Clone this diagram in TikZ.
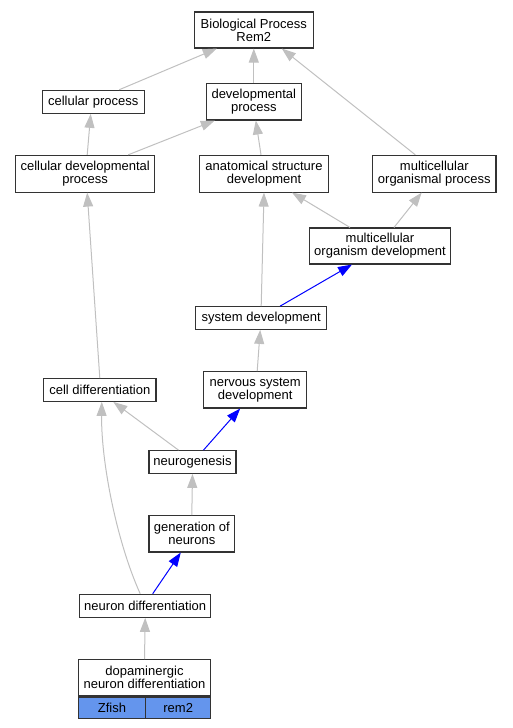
\documentclass[tikz,border=0pt]{standalone}
\usepackage{fontspec}
\setmainfont{Liberation Sans}
\usetikzlibrary{arrows.meta}
\definecolor{edgegray}{HTML}{C0C0C0}
\definecolor{cellblue}{HTML}{6495ED}
\begin{document}
\begin{tikzpicture}[x=1pt, y=-1pt,
        term/.style={draw=black!80, line width=1.1pt, fill=white, rectangle, inner sep=0pt,
            align=center, font=\fontsize{13}{13}\selectfont},
        cell/.style={term, fill=cellblue},
        isa/.style={edgegray, line width=1pt, -{Triangle[length=14pt,width=10pt]}},
        partof/.style={blue, line width=1pt, -{Triangle[length=14pt,width=10pt]}}]
        \useasboundingbox (0,0) rectangle (512,728);

        % terms
        \node[term, minimum width=119pt, minimum height=36pt] (bp) at (253.8,30) {Biological Process\\Rem2};
        \node[term, minimum width=101.7pt, minimum height=23pt] (cp) at (93.2,101.8) {cellular process};
        \node[term, minimum width=95pt, minimum height=36.3pt] (dp) at (253.8,101.8) {developmental\\process};
        \node[term, minimum width=139pt, minimum height=36.7pt] (cdp) at (85.2,173.7) {cellular developmental\\process};
        \node[term, minimum width=128.6pt, minimum height=36.7pt] (asd) at (264,173.7) {anatomical structure\\development};
        \node[term, minimum width=123.3pt, minimum height=36.7pt] (mop) at (434.3,173.7) {multicellular\\organismal process};
        \node[term, minimum width=141.4pt, minimum height=36pt] (mod) at (380,246) {multicellular\\organism development};
        \node[term, minimum width=131pt, minimum height=22.7pt] (sd) at (261.2,318) {system development};
        \node[term, minimum width=112.3pt, minimum height=22.7pt] (cd) at (99.8,390) {cell differentiation};
        \node[term, minimum width=103pt, minimum height=36.3pt] (nsd) at (255.2,389.8) {nervous system\\development};
        \node[term, minimum width=87pt, minimum height=22.7pt] (ng) at (192.5,462) {neurogenesis};
        \node[term, minimum width=85.7pt, minimum height=36.3pt] (gon) at (191.8,533.8) {generation of\\neurons};
        \node[term, minimum width=131pt, minimum height=23pt] (nd) at (145.2,605.8) {neuron differentiation};
        \node[term, minimum width=132.4pt, minimum height=36.3pt] (dnd) at (144.5,677.8) {dopaminergic\\neuron differentiation};
        \node[cell, minimum width=67.4pt, minimum height=21.3pt, anchor=north west] (zf) at (dnd.south west) {Zfish};
        \node[cell, minimum width=65pt, minimum height=21.3pt, anchor=north east] (rm) at (dnd.south east) {rem2};

        % is_a
        \draw[isa] ([xshift=26pt]cp.north) -- ([xshift=-37pt]bp.south);
        \draw[isa] (dp.north) -- (bp.south);
        \draw[isa] ([xshift=-19pt]mop.north) -- ([xshift=28pt]bp.south);
        \draw[isa] ([xshift=43pt]cdp.north) -- ([xshift=-39pt]dp.south);
        \draw[isa] ([xshift=-3pt]asd.north) -- ([xshift=2pt]dp.south);
        \draw[isa] ([xshift=2pt]cdp.north) -- ([xshift=-2.5pt]cp.south);
        \draw[isa] ([xshift=-30pt]mod.north) -- ([xshift=28pt]asd.south);
        \draw[isa] ([xshift=14pt]mod.north) -- ([xshift=-12.6pt]mop.south);
        \draw[isa] (sd.north) -- (asd.south);
        \draw[isa] (cd.north) -- ([xshift=2pt]cdp.south);
        \draw[isa] ([xshift=2pt]nsd.north) -- ([xshift=-1pt]sd.south);
        \draw[isa] ([xshift=-14pt]ng.north) -- ([xshift=13.5pt]cd.south);
        \draw[isa] (gon.north) -- (ng.south);
        \draw[isa] ([xshift=-5pt]nd.north) .. controls (116,540) and (101,460) .. ([xshift=2pt]cd.south);
        \draw[isa] (dnd.north) -- (nd.south);

        % part_of
        \draw[partof] ([xshift=19pt]sd.north) -- ([xshift=-28pt]mod.south);
        \draw[partof] ([xshift=11pt]ng.north) -- ([xshift=-15pt]nsd.south);
        \draw[partof] ([xshift=7.5pt]nd.north) -- ([xshift=-11pt]gon.south);
    \end{tikzpicture}
\end{document}
